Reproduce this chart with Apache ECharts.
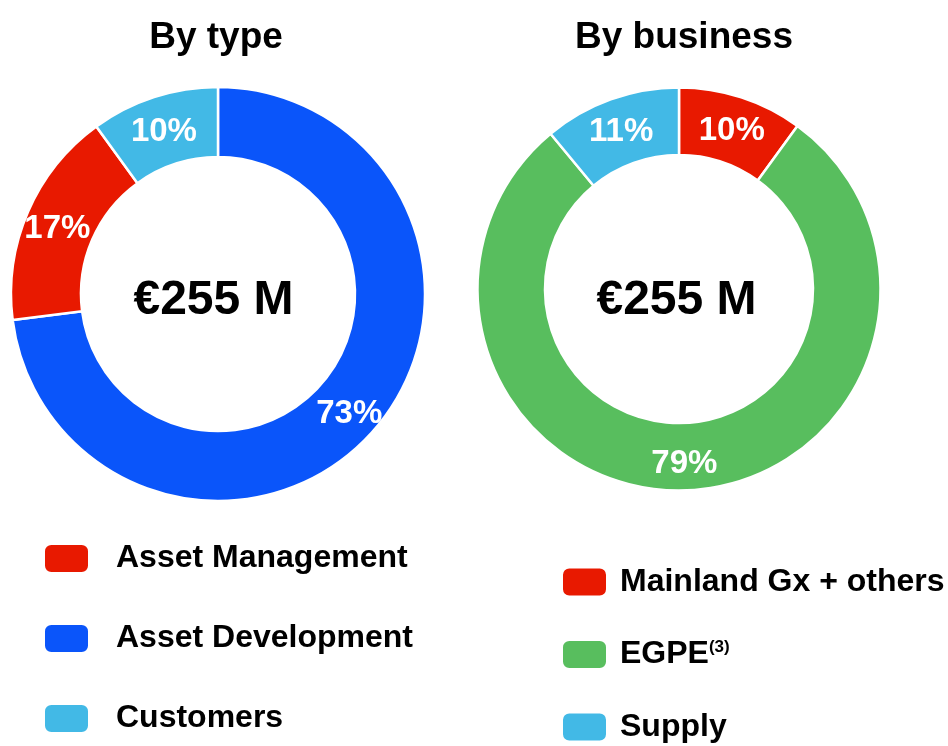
<!DOCTYPE html>
<html>
<head>
<meta charset="utf-8">
<script src="https://cdn.jsdelivr.net/npm/echarts@6/dist/echarts.min.js"></script>
<style>
html,body{margin:0;padding:0;background:#fff;}
#chart{width:948px;height:746px;}
</style>
</head>
<body>
<div id="chart"></div>
<script>
// ---- data ----
const typeNames = ['Asset Development', 'Asset Management', 'Customers'];
const typeValues = [73, 17, 10];
const typeLegend = ['Asset Management', 'Asset Development', 'Customers'];

const businessNames = ['Mainland Gx + others', 'EGPE', 'Supply'];
const businessValues = [10, 79, 11];
const businessLegend = ['Mainland Gx + others', 'EGPE', 'Supply'];

const titles = ['By type', 'By business'];
const centerText = ['€255 M', '€255 M'];

// ---- styles ----
const FONT = '"Liberation Sans", Arial, Helvetica, sans-serif';
const colorMap = {
  'Asset Development': '#0A55FA',
  'Asset Management': '#E81900',
  'Customers': '#42B9E6',
  'Mainland Gx + others': '#E81900',
  'EGPE': '#58BE5E',
  'Supply': '#42B9E6'
};

function buildData(names, values) {
  return names.map((n, i) => ({ name: n, value: values[i], itemStyle: { color: colorMap[n] } }));
}

const pieLabel = {
  show: true,
  position: 'inside',
  formatter: p => p.value + '%',
  color: '#fff',
  fontFamily: FONT,
  fontWeight: 'bold',
  fontSize: 33,
  offset: [0, 4]
};

const chart = echarts.init(document.getElementById('chart'), null, { renderer: 'canvas' });

const option = {
  backgroundColor: '#fff',
  animation: false,
  title: [
    { text: titles[0], left: 211, top: 14, textAlign: 'center',
      textStyle: { fontFamily: FONT, fontWeight: 'bold', fontSize: 37, color: '#000' } },
    { text: titles[1], left: 679, top: 14, textAlign: 'center',
      textStyle: { fontFamily: FONT, fontWeight: 'bold', fontSize: 37, color: '#000' } },
    { text: centerText[0], left: 208.5, top: 272, textAlign: 'center',
      textStyle: { fontFamily: FONT, fontWeight: 'bold', fontSize: 48, color: '#000' } },
    { text: centerText[1], left: 671.5, top: 272, textAlign: 'center',
      textStyle: { fontFamily: FONT, fontWeight: 'bold', fontSize: 48, color: '#000' } }
  ],
  legend: [
    {
      data: typeLegend,
      orient: 'vertical',
      left: 43, top: 542.5, height: 200,
      padding: 0,
      itemWidth: 45, itemHeight: 29, itemGap: 48,
      icon: 'roundRect',
      selectedMode: false,
      textStyle: { fontFamily: FONT, fontWeight: 'bold', fontSize: 32, color: '#000', padding: [0, 0, 0, 22] }
    },
    {
      data: businessLegend,
      orient: 'vertical',
      left: 561, top: 566, height: 200,
      padding: 0,
      itemWidth: 45, itemHeight: 29, itemGap: 40.5,
      icon: 'roundRect',
      selectedMode: false,
      formatter: name => name === 'EGPE' ? 'EGPE{sup|(3)}' : name,
      textStyle: {
        fontFamily: FONT, fontWeight: 'bold', fontSize: 32, color: '#000', padding: [0, 0, 0, 8],
        rich: {
          sup: { fontFamily: FONT, fontWeight: 'bold', fontSize: 17, color: '#000', verticalAlign: 'top' }
        }
      }
    }
  ],
  series: [
    {
      type: 'pie',
      center: [218, 294],
      radius: [137, 207],
      startAngle: 90,
      clockwise: true,
      avoidLabelOverlap: false,
      itemStyle: { borderColor: '#fff', borderWidth: 2.5 },
      label: pieLabel,
      labelLine: { show: false },
      emphasis: { disabled: true },
      data: buildData(typeNames, typeValues)
    },
    {
      type: 'pie',
      center: [679, 289],
      radius: [134, 201.5],
      startAngle: 90,
      clockwise: true,
      avoidLabelOverlap: false,
      itemStyle: { borderColor: '#fff', borderWidth: 2.5 },
      label: pieLabel,
      labelLine: { show: false },
      emphasis: { disabled: true },
      data: buildData(businessNames, businessValues)
    }
  ]
};

chart.setOption(option);
</script>
</body>
</html>
